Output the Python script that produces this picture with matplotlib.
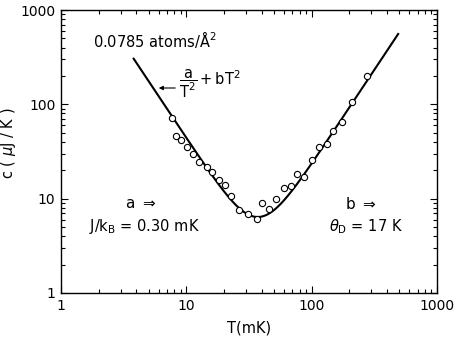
import numpy as np
import matplotlib
matplotlib.use("Agg")
import matplotlib.pyplot as plt
from matplotlib.ticker import LogLocator, NullFormatter, FixedLocator, FixedFormatter

# Data
T_mK = [7.69, 8.27, 9.02, 10.07, 11.37, 12.56, 14.55, 16.04, 18.14, 20.4, 22.6,
        26.2, 31.1, 36.3, 40.2, 45.5, 52.0, 60.2, 68.5, 76.5, 87.0, 100.7,
        113.9, 132.0, 149.0, 174.8, 211.2, 274.3]
c_uJK = [71.6, 46.4, 41.4, 35.7, 29.4, 24.6, 21.6, 19.3, 15.8, 14.1, 10.7,
         7.51, 6.81, 6.15, 9.09, 7.70, 9.90, 12.96, 13.7, 18.3, 16.9, 25.8,
         34.9, 38.2, 52.1, 64.9, 106.6, 200.7]

# Fit parameters of c = a/T^2 + b T^2
a_fit = 4400.0
b_fit = 0.00232
T_fit_range = [3.8, 490.0]

x_ticks = [1, 10, 100, 1000]
x_ticklabels = ["1", "10", "100", "1000"]
y_ticks = [1, 10, 100, 1000]
y_ticklabels = ["1", "10", "100", "1000"]

plt.rcParams['font.family'] = ['DejaVu Sans']

W, H = 454, 340
fig = plt.figure(figsize=(W / 100, H / 100), dpi=100)
ax = fig.add_axes([61 / W, 1 - 293 / H, (437 - 61) / W, (293 - 10) / H])

T = np.logspace(np.log10(T_fit_range[0]), np.log10(T_fit_range[1]), 400)
ax.plot(T, a_fit / T**2 + b_fit * T**2, color='black', lw=1.5)
ax.plot(T_mK, c_uJK, linestyle='none', marker='o', markersize=4.5,
        markerfacecolor='white', markeredgecolor='black', markeredgewidth=0.8)

ax.set_xscale('log')
ax.set_yscale('log')
ax.set_xlim(1, 1000)
ax.set_ylim(1, 1000)

ax.xaxis.set_major_locator(FixedLocator(x_ticks))
ax.xaxis.set_major_formatter(FixedFormatter(x_ticklabels))
ax.yaxis.set_major_locator(FixedLocator(y_ticks))
ax.yaxis.set_major_formatter(FixedFormatter(y_ticklabels))
ax.xaxis.set_minor_locator(LogLocator(base=10, subs=np.arange(2, 10)))
ax.yaxis.set_minor_locator(LogLocator(base=10, subs=np.arange(2, 10)))
ax.xaxis.set_minor_formatter(NullFormatter())
ax.yaxis.set_minor_formatter(NullFormatter())

ax.tick_params(which='both', direction='in', top=True, right=True,
               labelsize=10, width=0.8)
ax.tick_params(which='major', length=5, pad=4)
ax.tick_params(which='minor', length=3)
for s in ax.spines.values():
    s.set_linewidth(1.0)

ax.set_xlabel("T(mK)", fontsize=10.5, labelpad=6)
ax.set_ylabel("c ( $\\mu$J / K )", fontsize=10.5)
ax.yaxis.set_label_coords((18 - 61) / (437 - 61), (293 - 143) / (293 - 10))


def put(xp, yp, s, **kw):
    fig.text(xp / W, 1 - yp / H, s, **kw)


put(93, 40, "0.0785 atoms/Å$^2$", fontsize=10.5, va='center', ha='left')

put(179, 84, r"$\dfrac{\mathrm{a}}{\mathrm{T}^2}+\mathrm{bT}^2$",
    fontsize=10.5, va='center', ha='left')
fig.add_artist(matplotlib.patches.FancyArrowPatch(
    (178 / W, 1 - 88 / H), (156 / W, 1 - 88 / H),
    transform=fig.transFigure, arrowstyle='-|>', color='black', lw=0.8,
    mutation_scale=6))

put(125, 204, "a $\\Rightarrow$", fontsize=11, va='center', ha='left')
put(89, 227, "J/k$_\\mathrm{B}$ = 0.30 mK", fontsize=10.5, va='center', ha='left')
put(345, 204, "b $\\Rightarrow$", fontsize=11, va='center', ha='left')
put(329, 227, "$\\theta_\\mathrm{D}$ = 17 K", fontsize=10.5, va='center', ha='left')

fig.savefig("out.png", dpi=100)
